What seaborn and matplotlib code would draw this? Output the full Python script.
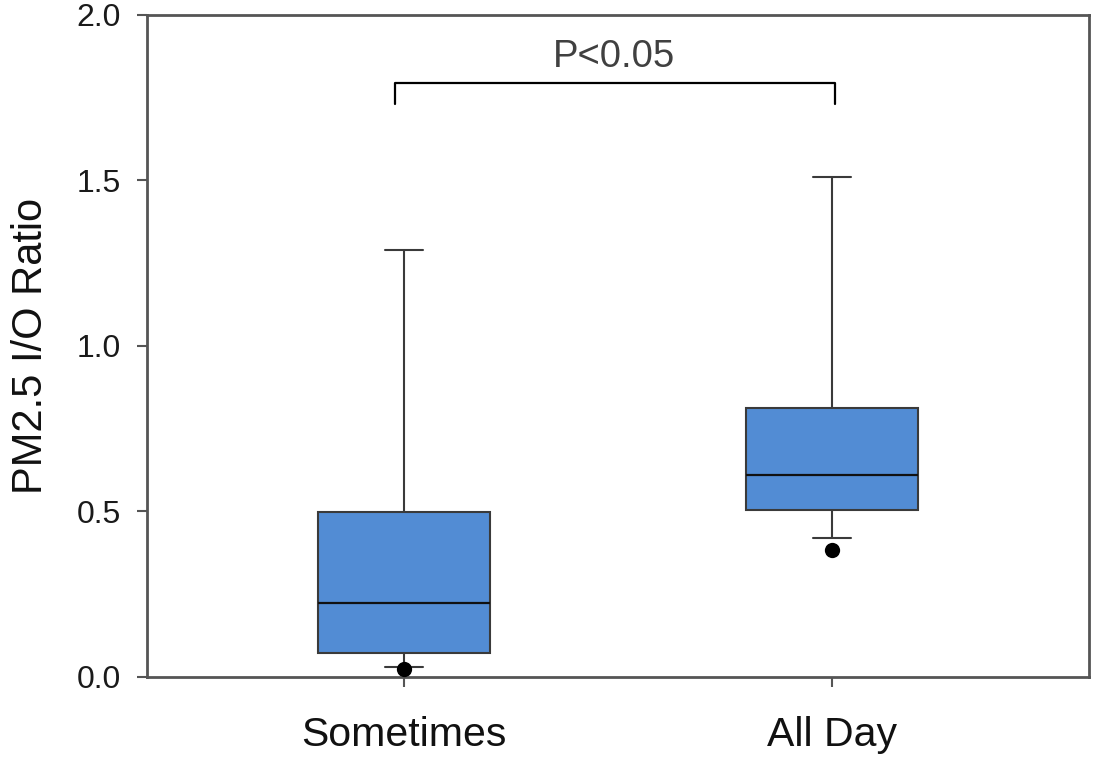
import matplotlib
matplotlib.use('Agg')
import matplotlib.pyplot as plt
import numpy as np
import pandas as pd
import seaborn as sns

# group order on the x axis
categories = ['Sometimes', 'All Day']

# five-number summaries (whisker low, Q1, median, Q3, whisker high)
sometimes_box = [0.030, 0.072, 0.224, 0.498, 1.290]
allday_box = [0.420, 0.505, 0.610, 0.813, 1.510]

# points drawn beyond the whiskers
sometimes_out = [0.024]
allday_out = [0.384]

y_ticks = [0.0, 0.5, 1.0, 1.5, 2.0]
p_label = 'P<0.05'

BOX_COLOR = '#528cd4'
EDGE_COLOR = '#3a3a3a'

sns.set_style('ticks')
plt.rcParams['font.family'] = ['Liberation Sans', 'DejaVu Sans']

box_df = pd.DataFrame({
    'group': [categories[0]] * len(sometimes_box) + [categories[1]] * len(allday_box),
    'ratio': sometimes_box + allday_box,
})
out_df = pd.DataFrame({
    'group': [categories[0]] * len(sometimes_out) + [categories[1]] * len(allday_out),
    'ratio': sometimes_out + allday_out,
})

fig = plt.figure(figsize=(10.95, 7.57), dpi=100)
ax = fig.add_axes([0.1342, 0.1057, 0.9945 - 0.1342, 0.9802 - 0.1057])

sns.boxplot(
    data=box_df, x='group', y='ratio', order=categories,
    color=BOX_COLOR, saturation=1, width=0.4, whis=(0, 100),
    linecolor=EDGE_COLOR, linewidth=1.5, showfliers=False,
    medianprops={'color': '#111111', 'linewidth': 1.6},
    capwidths=0.09, ax=ax,
)
sns.stripplot(
    data=out_df, x='group', y='ratio', order=categories,
    color='black', size=11, jitter=False, clip_on=False, zorder=5, ax=ax,
)

# significance bracket
y_br, y_tip = 1.795, 1.731
ax.plot([-0.02, -0.02, 1.007, 1.007], [y_tip, y_br, y_br, y_tip],
        color='black', linewidth=1.6, clip_on=False)
ax.text(0.49, 1.873, p_label, ha='center', va='center', fontsize=27.5, color='#404040')

ax.set_xlim(-0.6, 1.6)
ax.set_ylim(0, 2.0)
ax.set_yticks(y_ticks)
ax.set_yticklabels([f'{t:.1f}' for t in y_ticks], fontsize=23, color='#1a1a1a')
ax.tick_params(axis='x', labelsize=29.5, labelcolor='#111111', length=7, width=1.5,
               color='#555555', pad=21)
ax.tick_params(axis='y', length=7, width=1.5, color='#555555', pad=12)
ax.set_xlabel('')
ax.set_ylabel('PM2.5 I/O Ratio', fontsize=30, color='#111111', labelpad=18)

for side in ['left', 'right', 'top', 'bottom']:
    ax.spines[side].set_visible(True)
    ax.spines[side].set_color('#555555')
    ax.spines[side].set_linewidth(2)

fig.savefig('out.png', dpi=100)
